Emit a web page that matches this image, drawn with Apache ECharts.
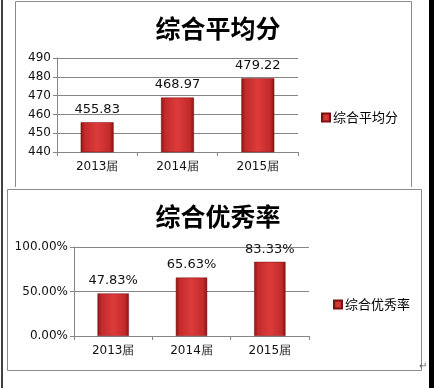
<!DOCTYPE html>
<html><head><meta charset="utf-8">
<script src="https://cdn.jsdelivr.net/npm/echarts@6/dist/echarts.min.js"></script>
<style>html,body{margin:0;padding:0;background:#fff}#c{width:434px;height:388px}</style>
</head><body><div id="c"></div>
<script>
const categories = ['2013届', '2014届', '2015届'];
const avgName = '综合平均分';
const avgValues = [455.83, 468.97, 479.22];
const rateName = '综合优秀率';
const rateValues = [0.4783, 0.6563, 0.8333];
const avgTicks = [440, 490, 10];
const rateTicks = [0, 1, 0.5];

const chart = echarts.init(document.getElementById('c'));
const barColor = new echarts.graphic.LinearGradient(0, 0, 1, 0, [
  {offset: 0, color: '#8c1515'},
  {offset: 0.12, color: '#c22a2a'},
  {offset: 0.5, color: '#dd3b3b'},
  {offset: 0.88, color: '#c22a2a'},
  {offset: 1, color: '#861313'}
]);
const font = 'DejaVu Sans';
const cjk = '"Noto Sans CJK SC"';
function xAxis(i) {
  return {
    type: 'category', gridIndex: i, data: categories,
    axisLine: {lineStyle: {color: '#868686', width: 1}},
    axisTick: {show: true, length: 4, alignWithLabel: false, lineStyle: {color: '#868686'}},
    axisLabel: {color: '#111', fontSize: 12, fontFamily: font, margin: 9}
  };
}
function yAxis(i, t, fmt) {
  return {
    type: 'value', gridIndex: i, min: t[0], max: t[1], interval: t[2],
    axisLine: {show: true, lineStyle: {color: '#868686'}},
    axisTick: {show: true, length: 4, lineStyle: {color: '#868686'}},
    splitLine: {lineStyle: {color: '#868686', width: 1}},
    axisLabel: {color: '#111', fontSize: 12, fontFamily: font, margin: 6, formatter: fmt}
  };
}
const pct = v => (v * 100).toFixed(2) + '%';
chart.setOption({
  animation: false,
  title: [
    {text: avgName, left: 213, textAlign: 'center', top: 11, textStyle: {fontSize: 25, fontWeight: 'bold', color: '#000', fontFamily: cjk}},
    {text: rateName, left: 213, textAlign: 'center', top: 199, textStyle: {fontSize: 25, fontWeight: 'bold', color: '#000', fontFamily: cjk}}
  ],
  legend: [
    {data: [avgName], left: 316, top: 106, itemWidth: 8, itemHeight: 8, itemGap: 4, icon: 'rect',
     textStyle: {fontSize: 13, color: '#000', fontFamily: cjk, padding: [0, 0, 0, -2]}},
    {data: [rateName], left: 328, top: 293, itemWidth: 8, itemHeight: 8, itemGap: 4, icon: 'rect',
     textStyle: {fontSize: 13, color: '#000', fontFamily: cjk, padding: [0, 0, 0, -2]}}
  ],
  grid: [
    {left: 57, width: 241, top: 58, height: 94},
    {left: 74, width: 235, top: 247, height: 89}
  ],
  xAxis: [xAxis(0), xAxis(1)],
  yAxis: [yAxis(0, avgTicks), yAxis(1, rateTicks, pct)],
  series: [
    {name: avgName, type: 'bar', xAxisIndex: 0, yAxisIndex: 0, data: avgValues, barWidth: '41%',
     itemStyle: {color: barColor, borderColor: '#7a1010', borderWidth: 0.5},
     label: {show: true, position: 'top', distance: 6, fontSize: 13, fontFamily: font, color: '#111', formatter: p => p.value.toFixed(2)}},
    {name: rateName, type: 'bar', xAxisIndex: 1, yAxisIndex: 1, data: rateValues, barWidth: '40%',
     itemStyle: {color: barColor, borderColor: '#7a1010', borderWidth: 0.5},
     label: {show: true, position: 'top', distance: 6, fontSize: 13, fontFamily: font, color: '#111', formatter: p => pct(p.value)}}
  ],
  graphic: [
    {type: 'polyline', shape: {points: [[15.5, 187], [15.5, 1.5], [411.5, 1.5], [411.5, 187]]}, style: {stroke: '#8a8a8a', lineWidth: 1, fill: null}},
    {type: 'rect', shape: {x: 7.5, y: 189.5, width: 414, height: 181}, style: {stroke: '#8a8a8a', lineWidth: 1, fill: null}},
    {type: 'line', shape: {x1: 2, y1: 0, x2: 2, y2: 388}, style: {stroke: '#000', lineWidth: 1.5}},
    {type: 'rect', shape: {x: 429, y: 0, width: 5, height: 388}, style: {fill: '#000'}},
    {type: 'text', left: 419, top: 361, style: {text: '↵', fontSize: 10, fill: '#666'}}
  ]
});
</script></body></html>
